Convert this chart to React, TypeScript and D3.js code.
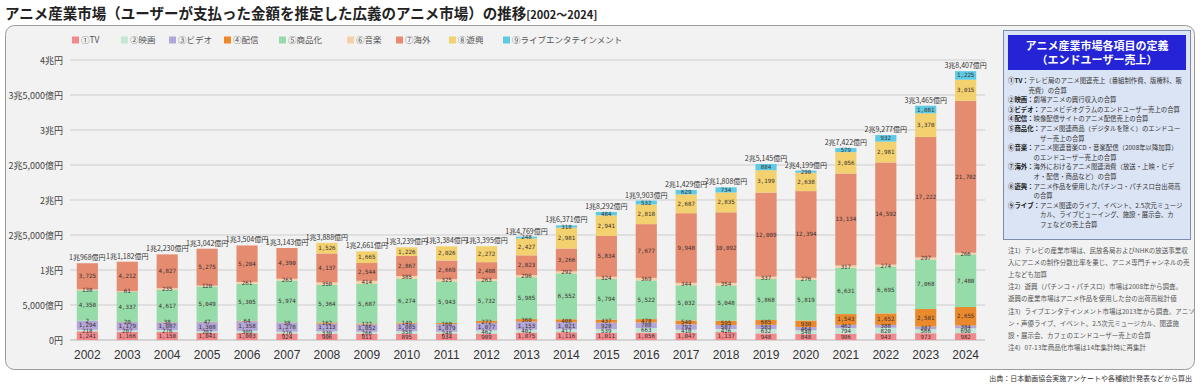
import React from "react";
import * as d3 from "d3";

// 億円, end-user sales by segment
const years = [2002, 2003, 2004, 2005, 2006, 2007, 2008, 2009, 2010, 2011, 2012, 2013, 2014, 2015, 2016, 2017, 2018, 2019, 2020, 2021, 2022, 2023, 2024];
const tv = [1241, 1166, 1150, 1041, 1003, 924, 906, 911, 895, 934, 909, 1075, 1116, 1011, 1056, 1047, 1137, 948, 848, 906, 943, 973, 982];
const movie = [218, 207, 276, 202, 309, 276, 330, 266, 358, 248, 462, 402, 417, 539, 663, 410, 426, 632, 540, 794, 820, 566, 690];
const video = [1294, 1179, 1087, 1308, 1358, 1278, 1113, 1052, 1085, 1079, 1077, 1153, 1021, 928, 788, 792, 587, 583, 464, 462, 388, 387, 384];
const streaming = [2, 20, 38, 47, 64, 38, 162, 122, 149, 160, 272, 360, 408, 437, 478, 540, 595, 685, 930, 1543, 1652, 2501, 2655];
const merch = [4350, 4337, 4617, 5049, 5305, 5974, 5364, 5687, 6274, 5943, 5732, 5985, 6552, 5794, 5522, 5032, 5048, 5868, 5819, 6631, 6695, 7068, 7488];
const music = [138, 61, 235, 120, 261, 263, 350, 414, 385, 325, 263, 296, 292, 324, 369, 344, 354, 337, 276, 317, 274, 297, 266];
const overseas = [3725, 4212, 4827, 5275, 5204, 4390, 4137, 2544, 2867, 2669, 2408, 2823, 3266, 5834, 7677, 9948, 10092, 12009, 12394, 13134, 14592, 17222, 21702];
const pachinko = [0, 0, 0, 0, 0, 0, 1526, 1665, 1226, 2026, 2272, 2427, 2981, 2941, 2818, 2687, 2835, 3199, 2638, 3056, 2981, 3370, 3015];
const live = [0, 0, 0, 0, 0, 0, 0, 0, 0, 0, 0, 248, 318, 484, 532, 629, 734, 884, 290, 579, 932, 1081, 1225];

const seriesKeys = ["tv", "movie", "video", "streaming", "merch", "music", "overseas", "pachinko", "live"];
const seriesNames = ["①TV", "②映画", "③ビデオ", "④配信", "⑤商品化", "⑥音楽", "⑦海外", "⑧遊興", "⑨ライブエンタテインメント"];
const seriesColors = ["#f28a8c", "#c2e8d6", "#b3a6d8", "#ea8a2c", "#96dca8", "#f6d0a6", "#e48b70", "#f3d16f", "#5ecae3"];

const yTickValues = [0, 5000, 10000, 15000, 20000, 25000, 30000, 35000, 40000];
const yTickLabels = ["0円", "5,000億円", "1兆円", "2兆5,000億円", "2兆円", "2兆5,000億円", "3兆円", "3兆5,000億円", "4兆円"];

const definitions = [
  {head: "①TV：", lines: ["テレビ局のアニメ関連売上（番組制作費、版権料、販", "売費）の合算"]},
  {head: "②映画：", lines: ["劇場アニメの興行収入の合算"]},
  {head: "③ビデオ：", lines: ["アニメビデオグラムのエンドユーザー売上の合算"]},
  {head: "④配信：", lines: ["映像配信サイトのアニメ配信売上の合算"]},
  {head: "⑤商品化：", lines: ["アニメ関連商品（デジタルを除く）のエンドユー", "ザー売上の合算"]},
  {head: "⑥音楽：", lines: ["アニメ関連音楽CD・音楽配信（2008年以降加算）", "のエンドユーザー売上の合算"]},
  {head: "⑦海外：", lines: ["海外におけるアニメ関連消費（放送・上映・ビデ", "オ・配信・商品など）の合算"]},
  {head: "⑧遊興：", lines: ["アニメ作品を使用したパチンコ・パチスロ台出荷高", "の合算"]},
  {head: "⑨ライブ：", lines: ["アニメ関連のライブ、イベント、2.5次元ミュージ", "カル、ライブビューイング、施設・展示会、カ", "フェなどの売上合算"]},
];

const notes = [
  "注1）テレビの産業市場は、民放各局およびNHKの放送事業収",
  "入にアニメの制作分数比率を乗じ、アニメ専門チャンネルの売",
  "上なども加算",
  "注2）遊興（パチンコ・パチスロ）市場は2008年から調査。",
  "遊興の産業市場はアニメ作品を使用した台の出荷高総計値",
  "注3）ライブエンタテインメント市場は2013年から調査。アニソ",
  "ン・声優ライブ、イベント、2.5次元ミュージカル、関連施",
  "設・展示会、カフェのエンドユーザー売上の合算",
  "注4）07-13年商品化市場は14年集計時に再集計",
];

const legendX = [72, 121, 169, 224, 279, 347, 396, 449, 503];

const JP = "'Noto Sans CJK JP', 'Noto Sans', sans-serif";

const rows = years.map((year, i) => ({
  year,
  tv: tv[i],
  movie: movie[i],
  video: video[i],
  streaming: streaming[i],
  merch: merch[i],
  music: music[i],
  overseas: overseas[i],
  pachinko: pachinko[i],
  live: live[i],
}));

const fmt = d3.format(",");
const fmtTotal = (v: number) => `${Math.floor(v / 10000)}兆${fmt(v % 10000)}億円`;

// rough width (in em) of a heading so wrapped lines hang under the body text
const headWidth = (s: string) =>
  Array.from(s).reduce((w, c) => w + (c.charCodeAt(0) < 128 ? 0.6 : 1), 0);

export default function App() {
  const x = d3
    .scaleBand<number>()
    .domain(years)
    .range([68, 985])
    .paddingInner(0.47)
    .paddingOuter(0.22);
  const y = d3.scaleLinear().domain([0, 40000]).range([340, 60]);
  const stack = d3.stack<any>().keys(seriesKeys)(rows);
  const totals = rows.map((r) => seriesKeys.reduce((s, k) => s + r[k], 0));

  const defFont = 6.4;
  let lineY = 83;
  const defLines: {x: number; y: number; head?: string; body: string}[] = [];
  definitions.forEach((d) => {
    d.lines.forEach((body, j) => {
      defLines.push(
        j === 0
          ? {x: 1008, y: lineY, head: d.head, body}
          : {x: 1008 + headWidth(d.head) * defFont, y: lineY, body}
      );
      lineY += 9.6;
    });
  });

  return (
    <svg
      width={1200}
      height={386}
      style={{position: "absolute", left: 0, top: 0, background: "#fff"}}
      fontFamily={JP}
    >
      <text x={5} y={19} fontSize={14.5} fontWeight="bold" fill="#222">
        アニメ産業市場（ユーザーが支払った金額を推定した広義のアニメ市場）の推移
        <tspan fontSize={11}>[2002～2024]</tspan>
      </text>

      <rect x={5.5} y={25.5} width={1189} height={344} rx={9} fill="#f2f2f2" stroke="#9c9c9c" />

      {/* legend */}
      {seriesNames.map((name, i) => (
        <g key={name} transform={`translate(${legendX[i]},0)`}>
          <rect x={0} y={36.5} width={7} height={7} fill={seriesColors[i]} />
          <text x={9} y={43} fontSize={8.5} fill="#555">
            {name}
          </text>
        </g>
      ))}

      {/* grid and y labels */}
      {yTickValues.map((v, i) => (
        <g key={v}>
          <line x1={70} x2={985} y1={y(v)} y2={y(v)} stroke={v === 0 ? "#b5b5b5" : "#cdcdcd"} strokeWidth={1} />
          <text x={63} y={y(v) + 3.5} fontSize={9} textAnchor="end" fill="#444">
            {yTickLabels[i]}
          </text>
        </g>
      ))}

      {/* stacked bars */}
      {stack.map((layer, si) => (
        <g key={layer.key} fill={seriesColors[si]}>
          {layer.map((d, i) =>
            d[1] - d[0] > 0 ? (
              <rect
                key={years[i]}
                x={x(years[i])}
                y={y(d[1])}
                width={x.bandwidth()}
                height={y(d[0]) - y(d[1])}
              />
            ) : null
          )}
        </g>
      ))}

      {/* segment values */}
      {stack.map((layer) => (
        <g key={layer.key + "-lbl"} fontFamily="'DejaVu Sans Mono', monospace" fontSize={5.8} fill="#3a3030" textAnchor="middle">
          {layer.map((d, i) =>
            d[1] - d[0] > 0 ? (
              <text key={years[i]} x={x(years[i])! + x.bandwidth() / 2} y={(y(d[0]) + y(d[1])) / 2 + 2}>
                {fmt(d[1] - d[0])}
              </text>
            ) : null
          )}
        </g>
      ))}

      {/* totals */}
      {years.map((yr, i) => (
        <text key={yr} x={x(yr)! + x.bandwidth() / 2} y={y(totals[i]) - 3} fontSize={7} textAnchor="middle" fill="#333">
          {fmtTotal(totals[i])}
        </text>
      ))}

      {/* year axis */}
      {years.map((yr) => (
        <text
          key={yr}
          x={x(yr)! + x.bandwidth() / 2}
          y={359}
          fontSize={12}
          textAnchor="middle"
          fill="#333"
          fontFamily="'Liberation Sans Narrow', 'Liberation Sans', sans-serif"
        >
          {yr}
        </text>
      ))}

      {/* definitions box */}
      <rect x={1003.5} y={30.5} width={187} height={209} fill="#dbe4f5" stroke="#7d8cae" />
      <rect x={1008} y={35} width={178} height={35} fill="#2424d6" />
      <text x={1097} y={50} fontSize={11} fontWeight="bold" fill="#fff" textAnchor="middle">
        アニメ産業市場各項目の定義
      </text>
      <text x={1097} y={64} fontSize={11} fontWeight="bold" fill="#fff" textAnchor="middle">
        （エンドユーザー売上）
      </text>
      {defLines.map((l, i) => (
        <text key={i} x={l.x} y={l.y} fontSize={defFont} fill="#333">
          {l.head && (
            <tspan fontWeight="bold" fill="#1a1a1a">
              {l.head}
            </tspan>
          )}
          {l.body}
        </text>
      ))}

      {/* notes */}
      {notes.map((n, i) => (
        <text key={i} x={1008} y={253 + i * 12.1} fontSize={6.5} fill="#555">
          {n}
        </text>
      ))}

      <text x={1192} y={381} fontSize={7} textAnchor="end" fill="#333">
        出典：日本動画協会実施アンケートや各種統計発表などから算出
      </text>
    </svg>
  );
}
